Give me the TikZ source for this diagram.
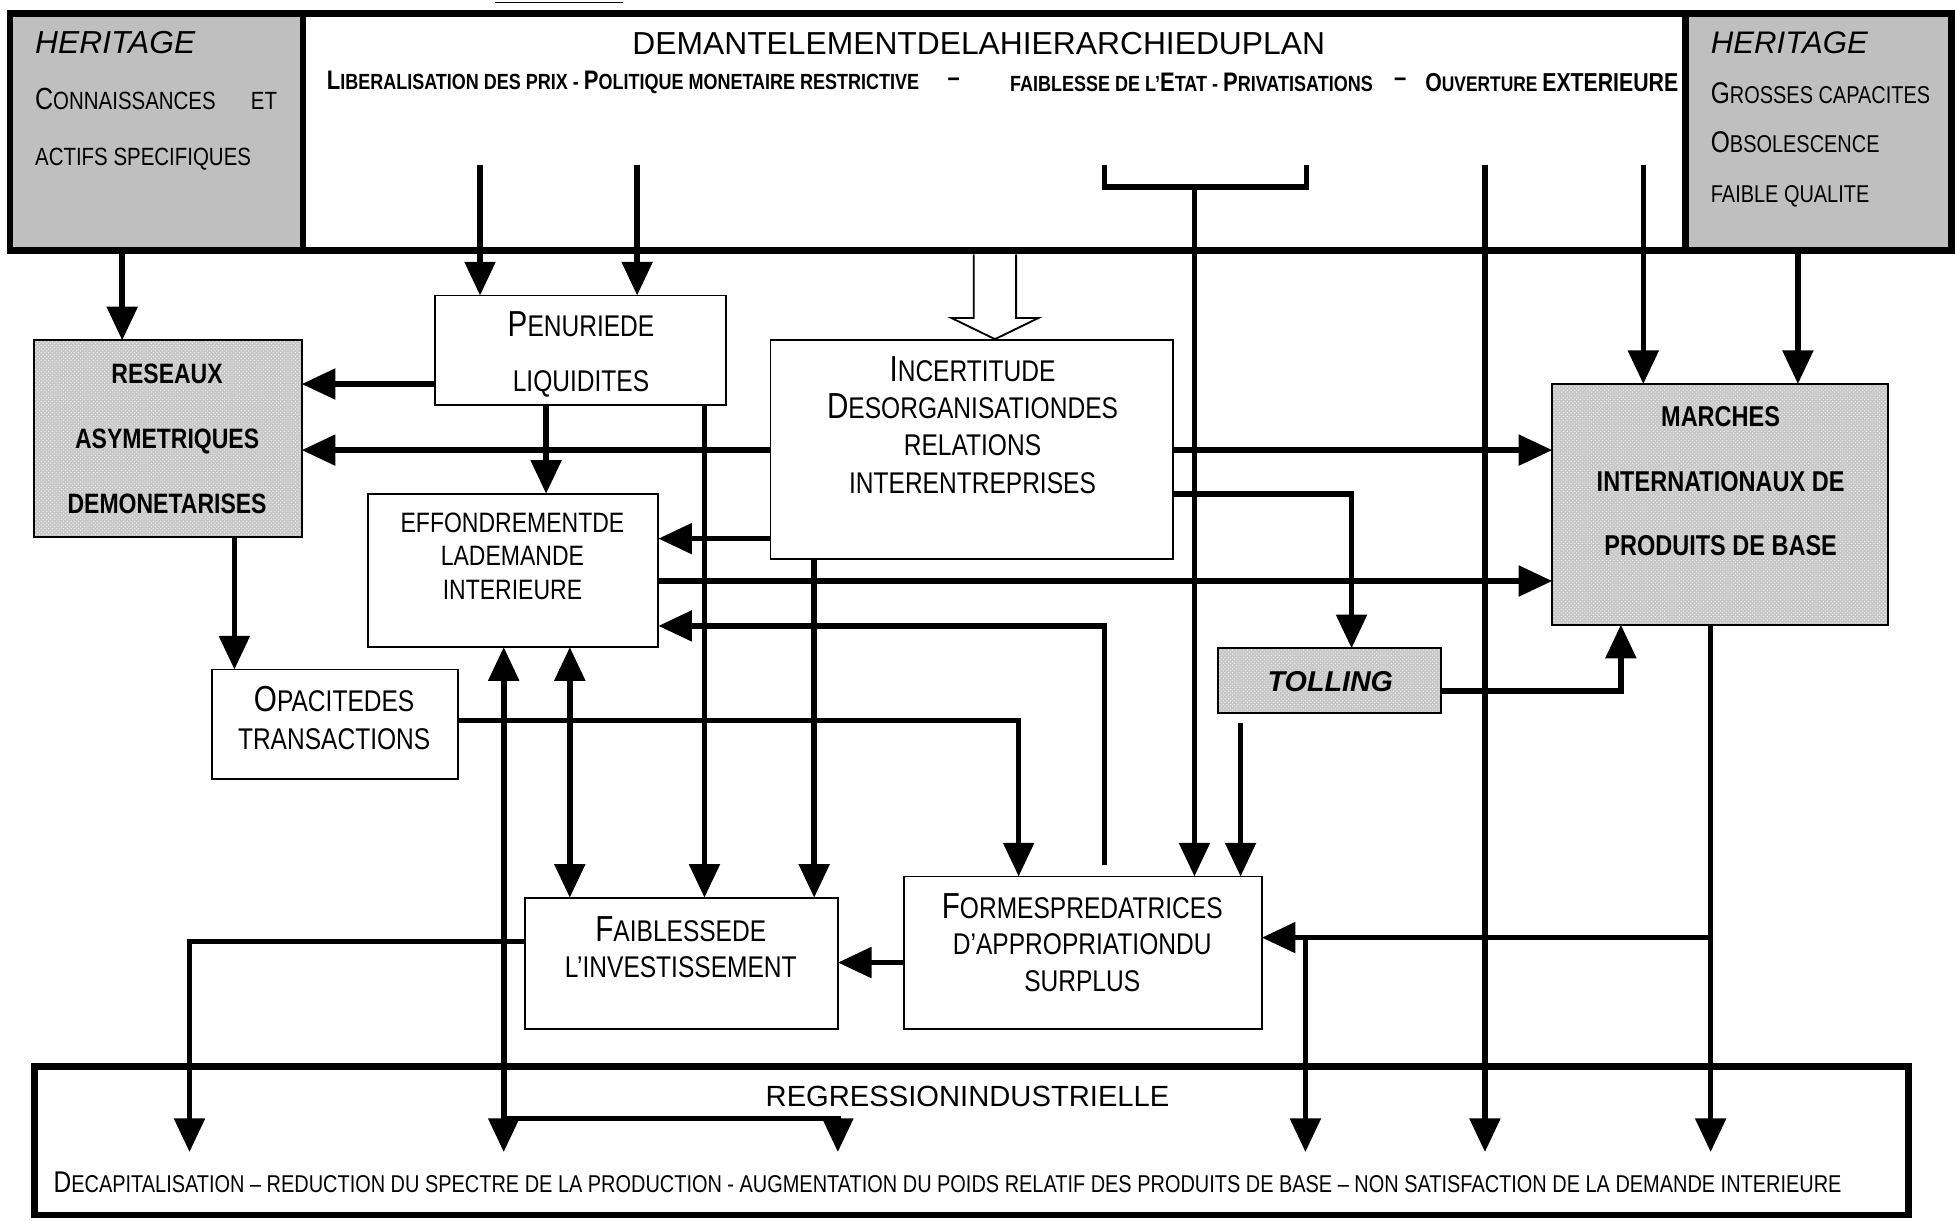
\documentclass[tikz,border=0pt]{standalone}
\usepackage{fontspec}
\setmainfont{Liberation Sans}
\newfontfamily\nar[FakeStretch=0.82]{Liberation Sans}
\usetikzlibrary{arrows.meta,patterns}
\newcommand\sk[2]{{\fontsize{#1}{#1}\selectfont #2}}
\begin{document}
\begin{tikzpicture}[x=1pt,y=-1pt,
  bx/.style={draw, line width=1.5pt, fill=white, inner sep=0pt, outer sep=0pt, anchor=north west},
  frame/.style={draw, line width=5.5pt, inner sep=0pt, outer sep=0pt, anchor=north west},
  pat/.style={draw, line width=1.5pt, inner sep=0pt, outer sep=0pt, anchor=north west, preaction={fill=black!22}, pattern=crosshatch dots, pattern color=black!5},
  ln/.style={line width=4.5pt},
  ar/.style={ln, -{Triangle[length=27pt,width=24pt]}},
  dar/.style={ln, {Triangle[length=27pt,width=24pt]}-{Triangle[length=27pt,width=24pt]}},
  txt/.style={inner sep=0pt, align=center},
  topline/.style={txt, font=\nar\bfseries\fontsize{17.6}{20}\selectfont},
]
\useasboundingbox (0,0) rectangle (1568,979);
\fill[white] (0,0) rectangle (1568,979);

% cut-off caption underline
\draw[line width=1.2pt] (397,2) -- (500,2);

% top frame
\node[frame, fill=white, minimum width=1109pt, minimum height=190pt] (plan) at (243,11) {};
\node[frame, fill=black!25, minimum width=235pt, minimum height=190pt] (herL) at (8,11) {};
\node[frame, fill=black!25, minimum width=213pt, minimum height=190pt] (herR) at (1352,11) {};

% boxes
\node[bx, minimum width=233pt, minimum height=88pt] (pen) at (349,237) {};
\node[pat, minimum width=215pt, minimum height=158pt] (res) at (27,273) {};
\node[bx, minimum width=323pt, minimum height=175pt] (inc) at (618,273) {};
\node[bx, minimum width=233pt, minimum height=123pt] (eff) at (295,396) {};
\node[pat, minimum width=269pt, minimum height=193pt] (mar) at (1245,308) {};
\node[pat, minimum width=179pt, minimum height=52pt] (tol) at (977,520) {};
\node[bx, minimum width=197pt, minimum height=88pt] (opa) at (170,537) {};
\node[bx, minimum width=251pt, minimum height=105pt] (fai) at (421,720) {};
\node[bx, minimum width=287pt, minimum height=122pt] (frm) at (725,703) {};
\node[frame, fill=white, minimum width=1503pt, minimum height=119pt] (reg) at (27.5,855.5) {};

% hollow arrow
\draw[line width=1.5pt, fill=white] (781,204) -- (781,255) -- (763,255) -- (798,272) -- (833,255) -- (815,255) -- (815,204);

% coordinates
\coordinate (cA) at (98,0);
\coordinate (sB) at (385,132);
\coordinate (sC) at (511,132);
\coordinate (bk1) at (886,132);
\coordinate (bk2) at (1048,132);
\coordinate (bkm) at (958,150);
\coordinate (sE) at (1191,132);
\coordinate (sF) at (1318,132);
\coordinate (cG) at (1442,0);
\coordinate (r308) at (0,308);
\coordinate (r361) at (0,361);
\coordinate (cJ) at (438,0);
\coordinate (cK) at (565,0);
\coordinate (r432) at (0,432);
\coordinate (r396) at (0,396);
\coordinate (cN) at (1084,0);
\coordinate (cO) at (653,0);
\coordinate (r466) at (0,466);
\coordinate (qS) at (886,694);
\coordinate (r502) at (0,502);
\coordinate (r578) at (0,578);
\coordinate (cR) at (817,0);
\coordinate (sS) at (995,580);
\coordinate (r554) at (0,554);
\coordinate (cT) at (1300,0);
\coordinate (cU) at (188,0);
\coordinate (cV) at (404,0);
\coordinate (r897) at (0,897);
\coordinate (cV2) at (672,0);
\coordinate (cW) at (457,0);
\coordinate (r772) at (0,772);
\coordinate (r755) at (0,755);
\coordinate (cY) at (152,0);
\coordinate (cZ) at (1372,0);
\coordinate (r752) at (0,752);
\coordinate (cZ2) at (1047,0);
\coordinate (bot) at (0,924);

% connectors
\draw[ar] (herL.south -| cA) -- (res.north -| cA);
\draw[ar] (sB) -- (pen.north -| sB);
\draw[ar] (sC) -- (pen.north -| sC);
\draw[ln] (bk1) -- (bk1 |- bkm) -- (bk2 |- bkm) -- (bk2);
\draw[ar] (bkm) -- (frm.north -| bkm);
\draw[ar] (sE) -- (sE |- bot);
\draw[ar] (sF) -- (mar.north -| sF);
\draw[ar] (herR.south -| cG) -- (mar.north -| cG);
\draw[ar] (pen.west |- r308) -- (res.east |- r308);
\draw[ar] (inc.west |- r361) -- (res.east |- r361);
\draw[ar] (pen.south -| cJ) -- (eff.north -| cJ);
\draw[ar] (pen.south -| cK) -- (fai.north -| cK);
\draw[ar] (inc.west |- r432) -- (eff.east |- r432);
\draw[ar] (inc.east |- r361) -- (mar.west |- r361);
\draw[ar] (inc.east |- r396) -| (tol.north -| cN);
\draw[ar] (inc.south -| cO) -- (fai.north -| cO);
\draw[ar] (eff.east |- r466) -- (mar.west |- r466);
\draw[ar] (qS) |- (eff.east |- r502);
\draw[ar] (opa.east |- r578) -| (frm.north -| cR);
\draw[ar] (sS) -- (frm.north -| sS);
\draw[ar] (tol.east |- r554) -| (mar.south -| cT);
\draw[ar] (res.south -| cU) -- (opa.north -| cU);
\draw[dar] (eff.south -| cV) -- (cV |- bot);
\draw[ar] (cV |- r897) -| (cV2 |- bot);
\draw[dar] (eff.south -| cW) -- (fai.north -| cW);
\draw[ar] (frm.west |- r772) -- (fai.east |- r772);
\draw[ar] (fai.west |- r755) -| (cY |- bot);
\draw[ar] (mar.south -| cZ) -- (cZ |- bot);
\draw[ar] (cZ |- r752) -- (frm.east |- r752);
\draw[ar] (cZ2 |- r752) -- (cZ2 |- bot);

% texts
\node[txt, font=\fontsize{25.5}{30}\selectfont] (planT) at (785,35) {DEMANTELEMENTDELAHIERARCHIEDUPLAN};
\node[topline, anchor=west] (planL1) at (262,66) {\sk{21.5}{L}IBERALISATION DES PRIX - \sk{21.5}{P}OLITIQUE MONETAIRE RESTRICTIVE};
\node[topline] (dash1) at (765,66) {\sk{21.5}{–}};
\node[topline, anchor=west] (planL2) at (810,66) {FAIBLESSE DE L’\sk{21.5}{E}TAT - \sk{21.5}{P}RIVATISATIONS};
\node[topline] (dash2) at (1123,66) {\sk{21.5}{–}};
\node[topline, anchor=west, font=\nar\bfseries\fontsize{17}{20}\selectfont] (planL3) at (1143,66) {\sk{20.8}{O}UVERTURE \sk{20.8}{EXTERIEURE}};

\node[txt, anchor=north west, align=left, font=\nar\fontsize{20}{45}\selectfont] (herLT) at (28,25) {\sk{25.5}{\rmfamily\itshape HERITAGE}\\ \hbox to 194pt{\sk{24.5}{C}ONNAISSANCES\hfill ET}\\ ACTIFS SPECIFIQUES};
\node[txt, anchor=north west, align=left, font=\nar\fontsize{19.5}{40}\selectfont] (herRT) at (1372,25) {\sk{25}{\rmfamily\itshape HERITAGE}\\ \sk{24}{G}ROSSES CAPACITES\\ \sk{24}{O}BSOLESCENCE\\ FAIBLE QUALITE};

\node[txt, font=\nar\fontsize{24}{44}\selectfont] (penT) at (466,284) {\sk{29}{P}ENURIEDE\\LIQUIDITES};
\node[txt, font=\nar\bfseries\fontsize{22.5}{52}\selectfont] (resT) at (134,352) {RESEAUX\\ASYMETRIQUES\\DEMONETARISES};
\node[txt, font=\nar\fontsize{24}{29.7}\selectfont] (incT) at (780,341) {\sk{29}{I}NCERTITUDE\\\sk{29}{D}ESORGANISATIONDES\\RELATIONS\\INTERENTREPRISES};
\node[txt, font=\nar\fontsize{22.5}{27}\selectfont] (effT) at (411,446) {EFFONDREMENTDE\\LADEMANDE\\INTERIEURE};
\node[txt, font=\nar\bfseries\fontsize{23}{51.5}\selectfont] (marT) at (1380,386) {MARCHES\\INTERNATIONAUX DE\\PRODUITS DE BASE};
\node[txt, font=\bfseries\itshape\fontsize{23}{27}\selectfont] (tolT) at (1067,547) {TOLLING};
\node[txt, font=\nar\fontsize{24}{30}\selectfont] (opaT) at (268,576) {\sk{29}{O}PACITEDES\\TRANSACTIONS};
\node[txt, font=\nar\fontsize{24}{29}\selectfont] (faiT) at (546,760) {\sk{29}{F}AIBLESSEDE\\L’INVESTISSEMENT};
\node[txt, font=\nar\fontsize{24}{29.5}\selectfont] (frmT) at (868,756) {\sk{29}{F}ORMESPREDATRICES\\D’APPROPRIATIONDU\\SURPLUS};
\node[txt, font=\fontsize{23.4}{27}\selectfont] (regT1) at (776,879) {REGRESSIONINDUSTRIELLE};
\node[txt, font=\nar\fontsize{19.5}{24}\selectfont] (regT2) at (760,948) {\sk{24}{D}ECAPITALISATION – REDUCTION DU SPECTRE DE LA PRODUCTION - AUGMENTATION DU POIDS RELATIF DES PRODUITS DE BASE – NON SATISFACTION DE LA DEMANDE INTERIEURE};
\end{tikzpicture}
\end{document}
